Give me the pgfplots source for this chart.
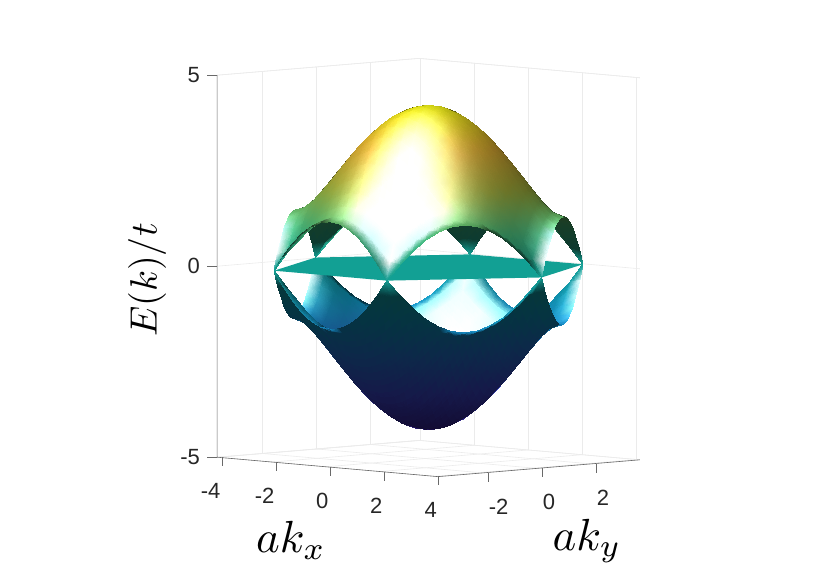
\documentclass[border=0pt]{standalone}
\usepackage{fontspec}
\setmainfont{Liberation Sans}
\usepackage{pgfplots}
\usepackage{pgfplotstable}
\usepackage{graphicx}
\pgfplotsset{compat=1.18}
\definecolor{gridc}{RGB}{235,235,235}
\definecolor{axc}{RGB}{105,105,105}
\definecolor{txtc}{RGB}{38,38,38}
\definecolor{flatc}{RGB}{18,160,148}
\pgfplotstableread{
kx ky E
-2.09 -3.63 0
-1.75 -3.63 .40
-1.40 -3.63 .75
-1.05 -3.63 1.04
-.70 -3.63 1.24
-.35 -3.63 1.37
0 -3.63 1.41
.35 -3.63 1.37
.70 -3.63 1.24
1.05 -3.63 1.04
1.40 -3.63 .75
1.75 -3.63 .40
2.09 -3.63 0
-2.27 -3.33 .40
-1.92 -3.33 .45
-1.57 -3.33 .73
-1.22 -3.33 1.02
-.87 -3.33 1.25
-.52 -3.33 1.41
-.17 -3.33 1.50
.17 -3.33 1.50
.52 -3.33 1.41
.87 -3.33 1.25
1.22 -3.33 1.02
1.57 -3.33 .73
1.92 -3.33 .45
2.27 -3.33 .40
-2.44 -3.02 .75
-2.09 -3.02 .73
-1.75 -3.02 .92
-1.40 -3.02 1.18
-1.05 -3.02 1.41
-.70 -3.02 1.60
-.35 -3.02 1.71
0 -3.02 1.75
.35 -3.02 1.71
.70 -3.02 1.60
1.05 -3.02 1.41
1.40 -3.02 1.18
1.75 -3.02 .92
2.09 -3.02 .73
2.44 -3.02 .75
-2.62 -2.72 1.04
-2.27 -2.72 1.02
-1.92 -2.72 1.18
-1.57 -2.72 1.41
-1.22 -2.72 1.65
-.87 -2.72 1.86
-.52 -2.72 2.00
-.17 -2.72 2.08
.17 -2.72 2.08
.52 -2.72 2.00
.87 -2.72 1.86
1.22 -2.72 1.65
1.57 -2.72 1.41
1.92 -2.72 1.18
2.27 -2.72 1.02
2.62 -2.72 1.04
-2.79 -2.42 1.24
-2.44 -2.42 1.25
-2.09 -2.42 1.41
-1.75 -2.42 1.65
-1.40 -2.42 1.91
-1.05 -2.42 2.13
-.70 -2.42 2.30
-.35 -2.42 2.41
0 -2.42 2.45
.35 -2.42 2.41
.70 -2.42 2.30
1.05 -2.42 2.13
1.40 -2.42 1.91
1.75 -2.42 1.65
2.09 -2.42 1.41
2.44 -2.42 1.25
2.79 -2.42 1.24
-2.97 -2.12 1.37
-2.62 -2.12 1.41
-2.27 -2.12 1.60
-1.92 -2.12 1.86
-1.57 -2.12 2.13
-1.22 -2.12 2.38
-.87 -2.12 2.59
-.52 -2.12 2.73
-.17 -2.12 2.81
.17 -2.12 2.81
.52 -2.12 2.73
.87 -2.12 2.59
1.22 -2.12 2.38
1.57 -2.12 2.13
1.92 -2.12 1.86
2.27 -2.12 1.60
2.62 -2.12 1.41
2.97 -2.12 1.37
-3.14 -1.81 1.41
-2.79 -1.81 1.50
-2.44 -1.81 1.71
-2.09 -1.81 2.00
-1.75 -1.81 2.30
-1.40 -1.81 2.59
-1.05 -1.81 2.83
-.70 -1.81 3.01
-.35 -1.81 3.12
0 -1.81 3.16
.35 -1.81 3.12
.70 -1.81 3.01
1.05 -1.81 2.83
1.40 -1.81 2.59
1.75 -1.81 2.30
2.09 -1.81 2.00
2.44 -1.81 1.71
2.79 -1.81 1.50
3.14 -1.81 1.41
-3.32 -1.51 1.37
-2.97 -1.51 1.50
-2.62 -1.51 1.75
-2.27 -1.51 2.08
-1.92 -1.51 2.41
-1.57 -1.51 2.73
-1.22 -1.51 3.01
-.87 -1.51 3.23
-.52 -1.51 3.39
-.17 -1.51 3.46
.17 -1.51 3.46
.52 -1.51 3.39
.87 -1.51 3.23
1.22 -1.51 3.01
1.57 -1.51 2.73
1.92 -1.51 2.41
2.27 -1.51 2.08
2.62 -1.51 1.75
2.97 -1.51 1.50
3.32 -1.51 1.37
-3.49 -1.21 1.24
-3.14 -1.21 1.41
-2.79 -1.21 1.71
-2.44 -1.21 2.08
-2.09 -1.21 2.45
-1.75 -1.21 2.81
-1.40 -1.21 3.12
-1.05 -1.21 3.39
-.70 -1.21 3.58
-.35 -1.21 3.70
0 -1.21 3.74
.35 -1.21 3.70
.70 -1.21 3.58
1.05 -1.21 3.39
1.40 -1.21 3.12
1.75 -1.21 2.81
2.09 -1.21 2.45
2.44 -1.21 2.08
2.79 -1.21 1.71
3.14 -1.21 1.41
3.49 -1.21 1.24
-3.67 -.91 1.04
-3.32 -.91 1.25
-2.97 -.91 1.60
-2.62 -.91 2.00
-2.27 -.91 2.41
-1.92 -.91 2.81
-1.57 -.91 3.16
-1.22 -.91 3.46
-.87 -.91 3.70
-.52 -.91 3.86
-.17 -.91 3.95
.17 -.91 3.95
.52 -.91 3.86
.87 -.91 3.70
1.22 -.91 3.46
1.57 -.91 3.16
1.92 -.91 2.81
2.27 -.91 2.41
2.62 -.91 2.00
2.97 -.91 1.60
3.32 -.91 1.25
3.67 -.91 1.04
-3.84 -.60 .75
-3.49 -.60 1.02
-3.14 -.60 1.41
-2.79 -.60 1.86
-2.44 -.60 2.30
-2.09 -.60 2.73
-1.75 -.60 3.12
-1.40 -.60 3.46
-1.05 -.60 3.74
-.70 -.60 3.95
-.35 -.60 4.07
0 -.60 4.11
.35 -.60 4.07
.70 -.60 3.95
1.05 -.60 3.74
1.40 -.60 3.46
1.75 -.60 3.12
2.09 -.60 2.73
2.44 -.60 2.30
2.79 -.60 1.86
3.14 -.60 1.41
3.49 -.60 1.02
3.84 -.60 .75
-4.01 -.30 .40
-3.67 -.30 .73
-3.32 -.30 1.18
-2.97 -.30 1.65
-2.62 -.30 2.13
-2.27 -.30 2.59
-1.92 -.30 3.01
-1.57 -.30 3.39
-1.22 -.30 3.70
-.87 -.30 3.95
-.52 -.30 4.11
-.17 -.30 4.20
.17 -.30 4.20
.52 -.30 4.11
.87 -.30 3.95
1.22 -.30 3.70
1.57 -.30 3.39
1.92 -.30 3.01
2.27 -.30 2.59
2.62 -.30 2.13
2.97 -.30 1.65
3.32 -.30 1.18
3.67 -.30 .73
4.01 -.30 .40
-4.19 0 0
-3.84 0 .45
-3.49 0 .92
-3.14 0 1.41
-2.79 0 1.91
-2.44 0 2.38
-2.09 0 2.83
-1.75 0 3.23
-1.40 0 3.58
-1.05 0 3.86
-.70 0 4.07
-.35 0 4.20
0 0 4.24
.35 0 4.20
.70 0 4.07
1.05 0 3.86
1.40 0 3.58
1.75 0 3.23
2.09 0 2.83
2.44 0 2.38
2.79 0 1.91
3.14 0 1.41
3.49 0 .92
3.84 0 .45
4.19 0 0
-4.01 .30 .40
-3.67 .30 .73
-3.32 .30 1.18
-2.97 .30 1.65
-2.62 .30 2.13
-2.27 .30 2.59
-1.92 .30 3.01
-1.57 .30 3.39
-1.22 .30 3.70
-.87 .30 3.95
-.52 .30 4.11
-.17 .30 4.20
.17 .30 4.20
.52 .30 4.11
.87 .30 3.95
1.22 .30 3.70
1.57 .30 3.39
1.92 .30 3.01
2.27 .30 2.59
2.62 .30 2.13
2.97 .30 1.65
3.32 .30 1.18
3.67 .30 .73
4.01 .30 .40
-3.84 .60 .75
-3.49 .60 1.02
-3.14 .60 1.41
-2.79 .60 1.86
-2.44 .60 2.30
-2.09 .60 2.73
-1.75 .60 3.12
-1.40 .60 3.46
-1.05 .60 3.74
-.70 .60 3.95
-.35 .60 4.07
0 .60 4.11
.35 .60 4.07
.70 .60 3.95
1.05 .60 3.74
1.40 .60 3.46
1.75 .60 3.12
2.09 .60 2.73
2.44 .60 2.30
2.79 .60 1.86
3.14 .60 1.41
3.49 .60 1.02
3.84 .60 .75
-3.67 .91 1.04
-3.32 .91 1.25
-2.97 .91 1.60
-2.62 .91 2.00
-2.27 .91 2.41
-1.92 .91 2.81
-1.57 .91 3.16
-1.22 .91 3.46
-.87 .91 3.70
-.52 .91 3.86
-.17 .91 3.95
.17 .91 3.95
.52 .91 3.86
.87 .91 3.70
1.22 .91 3.46
1.57 .91 3.16
1.92 .91 2.81
2.27 .91 2.41
2.62 .91 2.00
2.97 .91 1.60
3.32 .91 1.25
3.67 .91 1.04
-3.49 1.21 1.24
-3.14 1.21 1.41
-2.79 1.21 1.71
-2.44 1.21 2.08
-2.09 1.21 2.45
-1.75 1.21 2.81
-1.40 1.21 3.12
-1.05 1.21 3.39
-.70 1.21 3.58
-.35 1.21 3.70
0 1.21 3.74
.35 1.21 3.70
.70 1.21 3.58
1.05 1.21 3.39
1.40 1.21 3.12
1.75 1.21 2.81
2.09 1.21 2.45
2.44 1.21 2.08
2.79 1.21 1.71
3.14 1.21 1.41
3.49 1.21 1.24
-3.32 1.51 1.37
-2.97 1.51 1.50
-2.62 1.51 1.75
-2.27 1.51 2.08
-1.92 1.51 2.41
-1.57 1.51 2.73
-1.22 1.51 3.01
-.87 1.51 3.23
-.52 1.51 3.39
-.17 1.51 3.46
.17 1.51 3.46
.52 1.51 3.39
.87 1.51 3.23
1.22 1.51 3.01
1.57 1.51 2.73
1.92 1.51 2.41
2.27 1.51 2.08
2.62 1.51 1.75
2.97 1.51 1.50
3.32 1.51 1.37
-3.14 1.81 1.41
-2.79 1.81 1.50
-2.44 1.81 1.71
-2.09 1.81 2.00
-1.75 1.81 2.30
-1.40 1.81 2.59
-1.05 1.81 2.83
-.70 1.81 3.01
-.35 1.81 3.12
0 1.81 3.16
.35 1.81 3.12
.70 1.81 3.01
1.05 1.81 2.83
1.40 1.81 2.59
1.75 1.81 2.30
2.09 1.81 2.00
2.44 1.81 1.71
2.79 1.81 1.50
3.14 1.81 1.41
-2.97 2.12 1.37
-2.62 2.12 1.41
-2.27 2.12 1.60
-1.92 2.12 1.86
-1.57 2.12 2.13
-1.22 2.12 2.38
-.87 2.12 2.59
-.52 2.12 2.73
-.17 2.12 2.81
.17 2.12 2.81
.52 2.12 2.73
.87 2.12 2.59
1.22 2.12 2.38
1.57 2.12 2.13
1.92 2.12 1.86
2.27 2.12 1.60
2.62 2.12 1.41
2.97 2.12 1.37
-2.79 2.42 1.24
-2.44 2.42 1.25
-2.09 2.42 1.41
-1.75 2.42 1.65
-1.40 2.42 1.91
-1.05 2.42 2.13
-.70 2.42 2.30
-.35 2.42 2.41
0 2.42 2.45
.35 2.42 2.41
.70 2.42 2.30
1.05 2.42 2.13
1.40 2.42 1.91
1.75 2.42 1.65
2.09 2.42 1.41
2.44 2.42 1.25
2.79 2.42 1.24
-2.62 2.72 1.04
-2.27 2.72 1.02
-1.92 2.72 1.18
-1.57 2.72 1.41
-1.22 2.72 1.65
-.87 2.72 1.86
-.52 2.72 2.00
-.17 2.72 2.08
.17 2.72 2.08
.52 2.72 2.00
.87 2.72 1.86
1.22 2.72 1.65
1.57 2.72 1.41
1.92 2.72 1.18
2.27 2.72 1.02
2.62 2.72 1.04
-2.44 3.02 .75
-2.09 3.02 .73
-1.75 3.02 .92
-1.40 3.02 1.18
-1.05 3.02 1.41
-.70 3.02 1.60
-.35 3.02 1.71
0 3.02 1.75
.35 3.02 1.71
.70 3.02 1.60
1.05 3.02 1.41
1.40 3.02 1.18
1.75 3.02 .92
2.09 3.02 .73
2.44 3.02 .75
-2.27 3.33 .40
-1.92 3.33 .45
-1.57 3.33 .73
-1.22 3.33 1.02
-.87 3.33 1.25
-.52 3.33 1.41
-.17 3.33 1.50
.17 3.33 1.50
.52 3.33 1.41
.87 3.33 1.25
1.22 3.33 1.02
1.57 3.33 .73
1.92 3.33 .45
2.27 3.33 .40
-2.09 3.63 0
-1.75 3.63 .40
-1.40 3.63 .75
-1.05 3.63 1.04
-.70 3.63 1.24
-.35 3.63 1.37
0 3.63 1.41
.35 3.63 1.37
.70 3.63 1.24
1.05 3.63 1.04
1.40 3.63 .75
1.75 3.63 .40
2.09 3.63 0
}\ktable
% triangle connectivity of the hexagonal lattice, written row by row to a scratch file
\newcount\ro \ro=0
\newwrite\trifile
\immediate\openout\trifile=hextri.dat
\def\addtri#1#2#3{\immediate\write\trifile{\the\numexpr#1\relax\space\the\numexpr#2\relax\space\the\numexpr#3\relax}}
\foreach \r in {-12,...,-1}{%
  \pgfmathtruncatemacro\w{25+\r}%
  \pgfmathtruncatemacro\la{\w-1}%
  \pgfmathtruncatemacro\lb{\w-2}%
  \foreach \m in {0,...,\la}{\addtri{\ro+\m}{\ro+\w+\m}{\ro+\w+\m+1}}%
  \foreach \m in {0,...,\lb}{\addtri{\ro+\m}{\ro+\m+1}{\ro+\w+\m+1}}%
  \global\advance\ro by \w\relax
}
\foreach \r in {0,...,11}{%
  \pgfmathtruncatemacro\w{25-\r}%
  \pgfmathtruncatemacro\la{\w-2}%
  \pgfmathtruncatemacro\lb{\w-3}%
  \foreach \m in {0,...,\la}{\addtri{\ro+\m}{\ro+\m+1}{\ro+\w+\m}}%
  \foreach \m in {0,...,\lb}{\addtri{\ro+\m+1}{\ro+\w+\m}{\ro+\w+\m+1}}%
  \global\advance\ro by \w\relax
}
\immediate\closeout\trifile
% colour of a vertex: parula base colour with Phong lighting, stored as a table column
\def\palR{{.242,.281,.170,.060,.090,.280,.700,.990,.977}}
\def\palG{{.150,.323,.520,.680,.750,.800,.760,.760,.984}}
\def\palB{{.660,.958,.960,.860,.700,.530,.250,.220,.080}}
\newcommand\lit[1]{%
  \getthisrow{kx}\myka
  \getthisrow{ky}\mykb
  \getthisrow{E}\myE
  \begingroup
  \pgfmathsetmacro\myee{max(\myE,0.2)}%
  \pgfmathsetmacro\myt{min(max((#1*\myE+4.243)/8.486,0),0.9999)}%
  \pgfmathtruncatemacro\myi{int(\myt*8)}%
  \pgfmathsetmacro\myf{\myt*8-\myi}%
  \pgfmathsetmacro\mynx{-(#1)*(-4*sin(\myka*57.296)-4*sin(\myka*28.648)*cos(\mykb*49.62))/(2*\myee)}%
  \pgfmathsetmacro\myny{-(#1)*(-6.928*cos(\myka*28.648)*sin(\mykb*49.62))/(2*\myee)}%
  \pgfmathsetmacro\mynn{sqrt(\mynx*\mynx+\myny*\myny+1)}%
  \pgfmathsetmacro\mysg{(\mynx*.704-\myny*.704+.087)<0?-1:1}%
  \pgfmathsetmacro\mydl{max(\mysg*(-.026*\mynx-.469*\myny+.881)/\mynn,0)}%
  \pgfmathsetmacro\myds{max(\mysg*(.407*\mynx-.704*\myny+.581)/\mynn,0)}%
  \pgfmathsetmacro\mysp{.9*\myds*\myds*\myds*\myds*\myds*\myds*\myds*\myds*\myds*\myds}%
  \pgfmathsetmacro\mykk{.3+.6*\mydl}%
  \pgfmathsetmacro\cR{min(1,(\palR[\myi]+(\palR[\myi+1]-\palR[\myi])*\myf)*\mykk+\mysp)}%
  \pgfmathsetmacro\cG{min(1,(\palG[\myi]+(\palG[\myi+1]-\palG[\myi])*\myf)*\mykk+\mysp)}%
  \pgfmathsetmacro\cB{min(1,(\palB[\myi]+(\palB[\myi+1]-\palB[\myi])*\myf)*\mykk+\mysp)}%
  \xdef\myretval{rgb=\cR,\cG,\cB}%
  \endgroup
  \pgfkeyslet{/pgfplots/table/create col/next content}\myretval
}
\pgfplotstablecreatecol[create col/assign/.code={\lit{1}}]{su}\ktable
\pgfplotstablecreatecol[create col/assign/.code={\lit{-1}}]{sl}\ktable
\begin{document}
\begin{tikzpicture}
\path[use as bounding box] (0pt,0pt) rectangle (830pt,587pt);
\begin{axis}[
  at={(428.5pt,319.5pt)}, anchor=origin,
  x={(27pt,-2.375pt)}, y={(27pt,2.25pt)}, z={(0pt,38.2pt)},
  xmin=-4.09, xmax=4.09, ymin=-3.74, ymax=3.74, zmin=-5, zmax=5,
  clip=false,
  xtick={-4.05,-2.05,-0.05,1.95,3.97}, ytick={-2.07,-0.07,1.93}, ztick={-5,0,5},
  xticklabels={-4,-2,0,2,4}, yticklabels={-2,0,2}, zticklabels={-5,0,5},
  grid=major, grid style={draw=gridc, line width=.6pt},
  axis line style={draw=gridc, line width=.6pt},
  z axis line style={draw=none},
  major tick length=0pt, tick style={draw=none},
  tick label style={font=\fontsize{22}{24}\selectfont, text=txtc, inner sep=0pt},
  xticklabel style={anchor=east, xshift=2.35pt, yshift=-34pt},
  yticklabel style={anchor=west, xshift=5.6pt, yshift=-34pt},
  zticklabel style={anchor=east, xshift=-17pt},
  xlabel={\scalebox{4.5}{$ak_x$}},
  ylabel={\scalebox{4.5}{$ak_y$}},
  zlabel={\scalebox{3.8}{$E(k)/t$}},
  xlabel style={at={(axis cs:0,0,0)}, anchor=center, rotate=0, xshift=-137.5pt, yshift=-272.5pt, inner sep=0pt},
  ylabel style={at={(axis cs:0,0,0)}, anchor=center, rotate=0, xshift=158.5pt, yshift=-273.5pt, inner sep=0pt},
  zlabel style={at={(axis cs:0,0,0)}, anchor=center, rotate=0, xshift=-12.5pt, yshift=281.5pt, inner sep=0pt},
]
\pgfplotsinvokeforeach{-4,-2,0,2,4}{\draw[axc,line width=.6pt] ([xshift=2.7pt]axis cs:#1,-3.74,-5) -- ++(0pt,-9pt);}
\pgfplotsinvokeforeach{-2,0,2}{\draw[axc,line width=.6pt] ([xshift=3pt]axis cs:4.09,#1,-5) -- ++(0pt,-9pt);}
\pgfplotsinvokeforeach{-5,0,5}{\draw[axc,line width=.6pt] (axis cs:-4.09,-3.74,#1) -- ++(-10pt,0pt);}
\draw[axc,line width=.6pt] (axis cs:-4.09,-3.74,5) -- (axis cs:-4.09,-3.74,-5) -- (axis cs:4.09,-3.74,-5) -- (axis cs:4.09,3.74,-5);
% lower band
\addplot3[patch, patch table={hextri.dat}, shader=interp, z buffer=sort,
  mesh/color input=explicit]
  table[x=kx, y=ky, z expr=-\thisrow{E}, meta=sl] {\ktable};
% flat band
\addplot3[fill=flatc, draw=none] coordinates {(-2.09,-3.63,0) (-4.19,0,0) (-2.09,3.63,0) (2.09,3.63,0) (4.19,0,0) (2.09,-3.63,0)} -- cycle;
% upper band
\addplot3[patch, patch table={hextri.dat}, shader=interp, z buffer=sort,
  mesh/color input=explicit]
  table[x=kx, y=ky, z=E, meta=su] {\ktable};
\end{axis}
\end{tikzpicture}
\end{document}
